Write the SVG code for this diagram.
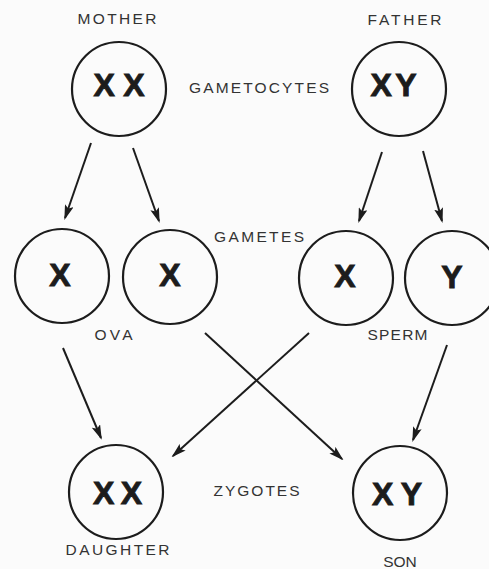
<svg xmlns="http://www.w3.org/2000/svg" width="489" height="569" viewBox="0 0 489 569">
  <style>
    .cell { fill: none; stroke: #1c1c1c; stroke-width: 2.2; }
    .chrom { font-family: "Liberation Sans", Arial, sans-serif; font-weight: bold; font-size: 32px; fill: #1c1c1c; stroke: #1c1c1c; stroke-width: 0.9; text-anchor: middle; }
    .label { font-family: "Liberation Sans", Arial, sans-serif; font-size: 15.5px; fill: #333; text-anchor: middle; }
    .conn { stroke: #1c1c1c; stroke-width: 2; fill: none; marker-end: url(#head); }
  </style>
  <defs>
    <marker id="head" markerUnits="userSpaceOnUse" markerWidth="15" markerHeight="9" refX="13" refY="4.5" orient="auto">
      <path d="M0,0 L15,4.5 L0,9 L3,4.5 z" fill="#1c1c1c"/>
    </marker>
  </defs>

  <rect width="489" height="569" fill="#fbfbfb"/>

  <!-- stage labels -->
  <g id="stage-labels">
    <text class="label" x="259" y="93" textLength="140" lengthAdjust="spacing">GAMETOCYTES</text>
    <text class="label" x="259" y="242" textLength="90" lengthAdjust="spacing">GAMETES</text>
    <text class="label" x="256.5" y="496" textLength="86" lengthAdjust="spacing">ZYGOTES</text>
  </g>

  <!-- parents -->
  <g id="mother">
    <text class="label" x="117" y="24" textLength="79" lengthAdjust="spacing">MOTHER</text>
    <circle class="cell" cx="119" cy="89" r="47"/>
    <text class="chrom" x="119" y="96" textLength="51" lengthAdjust="spacing">XX</text>
  </g>
  <g id="father">
    <text class="label" x="404.5" y="25" textLength="74" lengthAdjust="spacing">FATHER</text>
    <circle class="cell" cx="399" cy="89" r="47"/>
    <text class="chrom" x="393.5" y="96" textLength="46" lengthAdjust="spacing">XY</text>
  </g>

  <!-- ova -->
  <g id="ovum-1">
    <circle class="cell" cx="62" cy="276" r="47"/>
    <text class="chrom" x="60" y="286">X</text>
  </g>
  <g id="ovum-2">
    <circle class="cell" cx="170" cy="277" r="47"/>
    <text class="chrom" x="170" y="286">X</text>
  </g>
  <g id="ova-label">
    <text class="label" x="113.5" y="340" textLength="38" lengthAdjust="spacing">OVA</text>
  </g>

  <!-- sperm -->
  <g id="sperm-x">
    <circle class="cell" cx="346" cy="278" r="47"/>
    <text class="chrom" x="345" y="287">X</text>
  </g>
  <g id="sperm-y">
    <circle class="cell" cx="452" cy="278" r="47"/>
    <text class="chrom" x="452" y="288">Y</text>
  </g>
  <g id="sperm-label">
    <text class="label" x="397.5" y="340" textLength="60" lengthAdjust="spacing">SPERM</text>
  </g>

  <!-- zygotes -->
  <g id="daughter">
    <circle class="cell" cx="116" cy="492" r="47"/>
    <text class="chrom" x="117.5" y="504" textLength="49" lengthAdjust="spacing">XX</text>
    <text class="label" x="117.5" y="555" textLength="104" lengthAdjust="spacing">DAUGHTER</text>
  </g>
  <g id="son">
    <circle class="cell" cx="400" cy="493" r="47"/>
    <text class="chrom" x="397" y="505" textLength="50" lengthAdjust="spacing">XY</text>
    <text class="label" x="400" y="567">SON</text>
  </g>

  <!-- connectors -->
  <g id="connectors">
    <line class="conn" x1="91" y1="143" x2="65" y2="218"/>
    <line class="conn" x1="133" y1="148" x2="159" y2="221"/>
    <line class="conn" x1="382" y1="152" x2="359" y2="221"/>
    <line class="conn" x1="423" y1="151" x2="442" y2="221"/>
    <line class="conn" x1="205" y1="333" x2="342" y2="459"/>
    <line class="conn" x1="309" y1="333" x2="173" y2="456"/>
    <line class="conn" x1="63" y1="348" x2="101" y2="438"/>
    <line class="conn" x1="447" y1="345" x2="413" y2="440"/>
  </g>
</svg>
